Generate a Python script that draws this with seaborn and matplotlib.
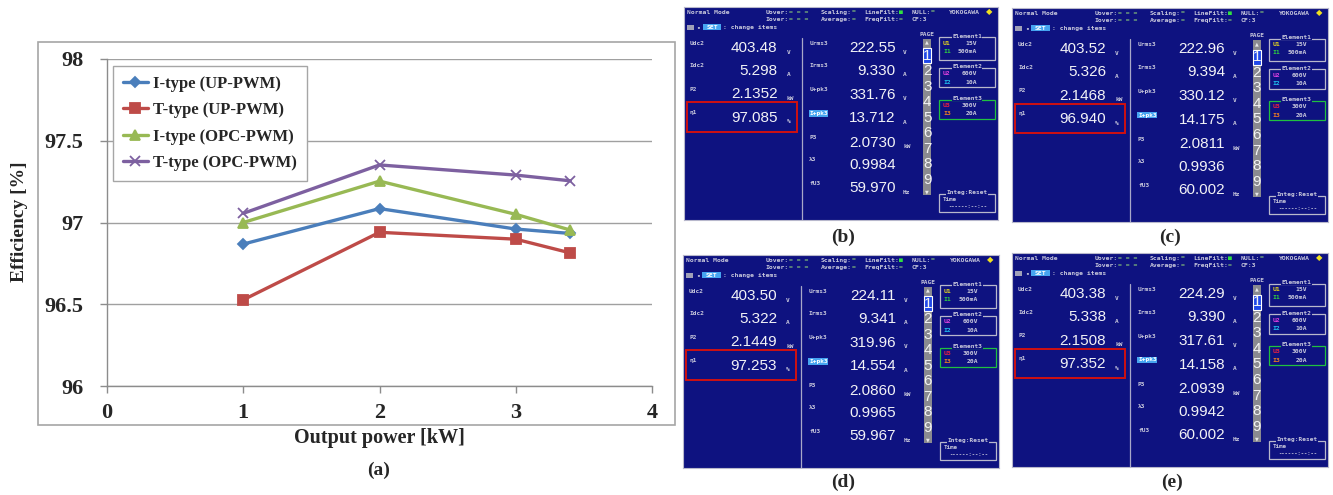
import matplotlib
matplotlib.use("Agg")
import matplotlib.pyplot as plt
from matplotlib.patches import Rectangle
import pandas as pd
import seaborn as sns

# --- data: efficiency curves (a) ---
power_kw = [1, 2, 3, 3.4]
eff_i_up = [96.868, 97.085, 96.96, 96.933]
eff_t_up = [96.527, 96.940, 96.898, 96.814]
eff_i_opc = [97.00, 97.253, 97.05, 96.954]
eff_t_opc = [97.056, 97.352, 97.29, 97.255]
series_names = ["I-type (UP-PWM)", "T-type (UP-PWM)", "I-type (OPC-PWM)", "T-type (OPC-PWM)"]
y_ticks = [96, 96.5, 97, 97.5, 98]
x_ticks = [0, 1, 2, 3, 4]

# --- data: power analyzer screens (b)-(e) ---
panel_tags = ["(b)", "(c)", "(d)", "(e)"]
udc2 = ["403.48", "403.52", "403.50", "403.38"]
idc2 = ["5.298", "5.326", "5.322", "5.338"]
p2 = ["2.1352", "2.1468", "2.1449", "2.1508"]
eta1 = ["97.085", "96.940", "97.253", "97.352"]
urms3 = ["222.55", "222.96", "224.11", "224.29"]
irms3 = ["9.330", "9.394", "9.341", "9.390"]
upk3 = ["331.76", "330.12", "319.96", "317.61"]
ipk3 = ["13.712", "14.175", "14.554", "14.158"]
p3 = ["2.0730", "2.0811", "2.0860", "2.0939"]
lam3 = ["0.9984", "0.9936", "0.9965", "0.9942"]
fu3 = ["59.970", "60.002", "59.967", "60.002"]
left_names = ["Udc2", "Idc2", "P2", "η1"]
left_units = ["V", "A", "kW", "%"]
mid_names = ["Urms3", "Irms3", "U+pk3", "I+pk3", "P3", "λ3", "fU3"]
mid_units = ["V", "A", "V", "A", "kW", "", "Hz"]
elements = [("Element1", "U1", "15V", "I1", "500mA"),
            ("Element2", "U2", "600V", "I2", "10A"),
            ("Element3", "U3", "300V", "I3", "20A")]

SERIF = ["Liberation Serif", "DejaVu Serif"]
MONO = ["DejaVu Sans Mono"]
SANS = ["Liberation Sans", "DejaVu Sans"]

sns.set_theme(style="white")
plt.rcParams["font.family"] = SERIF

fig = plt.figure(figsize=(13.33, 4.95), dpi=100)

# ---------------- (a) efficiency chart ----------------
fig.add_artist(Rectangle((38 / 1333, 1 - 425 / 495), (675 - 38) / 1333, (425 - 42) / 495,
                         transform=fig.transFigure, fill=False, edgecolor="#a6a6a6", lw=1.2))
ax = fig.add_axes([107 / 1333, 1 - 386 / 495, 545 / 1333, 327 / 495])

series_vals = [eff_i_up, eff_t_up, eff_i_opc, eff_t_opc]
series_colors = ["#4a7ebb", "#be4b48", "#98b954", "#7d60a0"]
series_markers = ["D", "s", "^", "x"]
series_msize = [5.5, 7.5, 7.5, 7.5]
for name, vals, col, mk, ms in zip(series_names, series_vals, series_colors, series_markers, series_msize):
    d = pd.DataFrame({"power": power_kw, "eff": vals})
    sns.lineplot(data=d, x="power", y="eff", color=col, marker=mk, markersize=ms,
                 lw=2.4, ax=ax, label=name, sort=False,
                 markeredgecolor=col, markeredgewidth=1.3)

ax.set_xlim(0, 4)
ax.set_ylim(96, 98)
ax.set_xticks(x_ticks)
ax.set_yticks(y_ticks)
ax.set_xticklabels([f"{v:g}" for v in x_ticks], fontsize=16, fontweight="bold", family=SERIF)
ax.set_yticklabels([f"{v:g}" for v in y_ticks], fontsize=16, fontweight="bold", family=SERIF)
ax.grid(axis="y", color="#a0a0a0", lw=1)
ax.set_axisbelow(True)
for s in ["top", "right"]:
    ax.spines[s].set_visible(False)
for s in ["left", "bottom"]:
    ax.spines[s].set_color("#8c8c8c")
    ax.spines[s].set_linewidth(1)
ax.tick_params(axis="both", direction="out", length=5, color="#8c8c8c", width=1, bottom=True, left=True)
ax.tick_params(axis="y", pad=12)
ax.tick_params(axis="x", pad=7)
ax.set_xlabel("")
ax.set_ylabel("")

handles, labels = ax.get_legend_handles_labels()
leg = ax.legend(handles, labels, loc="upper left", bbox_to_anchor=(0.011, 0.979),
                borderaxespad=0,
                prop={"family": SERIF, "weight": "bold", "size": 12},
                frameon=True, fancybox=False, edgecolor="#a6a6a6", framealpha=1,
                labelspacing=0.62, handlelength=1.5, handletextpad=0.3, borderpad=0.6)
leg.get_frame().set_linewidth(1)

fig.text(20 / 1333, 1 - 222 / 495, "Efficiency [%]", rotation=90, ha="center", va="center",
         fontsize=14, fontweight="bold", family=SERIF)
fig.text(379 / 1333, 1 - 438 / 495, "Output power [kW]", ha="center", va="center",
         fontsize=14.5, fontweight="bold", family=SERIF)
fig.text(379 / 1333, 1 - 470 / 495, "(a)", ha="center", va="center",
         fontsize=14, fontweight="bold", family=SERIF)

# ---------------- (b)-(e) analyzer screens ----------------
NAVY = "#0e1280"
TXT = "#f2f2f6"
LBL = "#c8c8dc"
EQ = "#6a9a7a"
CH = 11.5  # width of one mono char in screen units


def draw_screen(sa, k):
    sa.set_facecolor(NAVY)
    sa.set_xlim(0, 943)
    sa.set_ylim(638, 0)
    sa.set_xticks([])
    sa.set_yticks([])
    for s in sa.spines.values():
        s.set_color("#b8b8cc")
        s.set_linewidth(0.8)

    def t(x, y, s, size=4.6, color=LBL, ha="left", fam=MONO, weight="bold", **kw):
        sa.text(x, y, s, fontsize=size, color=color, ha=ha, va="center",
                family=fam, fontweight=weight, **kw)

    # header
    t(10, 15, "Normal Mode")
    for lab, x, y, tail, tcol in [("Uover:", 246, 15, "= = =", EQ), ("Iover:", 246, 38, "= = =", EQ),
                                  ("Scaling:", 411, 15, "=", EQ), ("Average:", 411, 38, "=", EQ),
                                  ("LineFilt:", 541, 15, "■", "#30e040"), ("FreqFilt:", 541, 38, "=", EQ),
                                  ("NULL:", 683, 15, "=", EQ), ("CF:3", 683, 38, "", EQ)]:
        t(x, y, lab)
        if tail:
            t(x + len(lab) * CH, y, tail, color=tcol)
    t(796, 15, "YOKOGAWA")
    t(908, 13, "◆", size=6, color="#f0e020", fam=["DejaVu Sans"])
    sa.add_patch(Rectangle((10, 53), 20, 16, facecolor="#a0a0b8", edgecolor="none"))
    t(38, 61, "•")
    sa.add_patch(Rectangle((56, 52), 56, 18, facecolor="#46a4f0", edgecolor="none"))
    t(84, 61, "SET", color="white", ha="center")
    t(118, 61, ": change items")

    # left column
    left_vals = [udc2[k], idc2[k], p2[k], eta1[k]]
    rows_y = [123, 191, 261, 331]
    for name, val, unit, y in zip(left_names, left_vals, left_units, rows_y):
        t(18, y - 15, name, size=4.4)
        t(281, y, val, size=11, color=TXT, ha="right", fam=SANS, weight="normal")
        t(308, y + 12, unit, size=4.4)
    sa.add_patch(Rectangle((8, 286), 330, 87, facecolor="none", edgecolor="#d01010", lw=1.4))
    sa.plot([353, 353], [93, 638], color="#a8a8c8", lw=0.9)

    # middle column
    mid_vals = [urms3[k], irms3[k], upk3[k], ipk3[k], p3[k], lam3[k], fu3[k]]
    mid_y = [123, 191, 263, 333, 406, 473, 543]
    for name, val, unit, y in zip(mid_names, mid_vals, mid_units, mid_y):
        if name == "I+pk3":
            sa.add_patch(Rectangle((374, y - 23), 58, 19, facecolor="#46a4f0", edgecolor="none"))
            t(378, y - 14, name, size=4.4, color="white")
        else:
            t(376, y - 15, name, size=4.4)
        t(636, y, val, size=11, color=TXT, ha="right", fam=SANS, weight="normal")
        if unit:
            t(658, y + 12, unit, size=4.4)

    # page scrollbar
    t(730, 83, "PAGE", ha="center", size=4.4)
    sa.add_patch(Rectangle((718, 96), 25, 467, facecolor="#8a8a90", edgecolor="none"))
    t(730.5, 106, "▲", size=3.5, color="#e8e8e8", ha="center", fam=["DejaVu Sans"])
    t(730.5, 553, "▼", size=3.5, color="#e8e8e8", ha="center", fam=["DejaVu Sans"])
    for n in range(1, 10):
        y = 146 + (n - 1) * 46.5
        if n == 1:
            sa.add_patch(Rectangle((719, y - 22), 23, 45, facecolor="#2048e8", edgecolor="white", lw=0.8))
        t(730.5, y, str(n), size=11, color="#f4f4f4", ha="center", fam=SANS, weight="normal")

    # element boxes
    box_y = [(91, 158), (183, 240), (278, 335)]
    colors = [("#e0d020", "#30d040"), ("#e040e0", "#20c0f0"), ("#e82040", "#f08020")]
    for (title, u, uv, i_, iv), (y0, y1), (cu, ci), edge in zip(
            elements, box_y, colors, ["#b8b8cc", "#b8b8cc", "#20c040"]):
        sa.add_patch(Rectangle((766, y0), 167, y1 - y0, facecolor="none", edgecolor=edge, lw=0.9))
        sa.text(850, y0 - 4, title, fontsize=4.4, color=LBL, ha="center", va="center",
                family=MONO, fontweight="bold", bbox=dict(facecolor=NAVY, edgecolor="none", pad=0.3))
        t(778, y0 + 17, u, color=cu)
        t(880, y0 + 17, uv, ha="right")
        t(778, y0 + 42, i_, color=ci)
        t(880, y0 + 42, iv, ha="right")

    # integration box
    sa.add_patch(Rectangle((766, 561), 167, 52, facecolor="none", edgecolor="#b8b8cc", lw=0.9))
    sa.text(850, 557, "Integ:Reset", fontsize=4.4, color=LBL, ha="center", va="center",
            family=MONO, fontweight="bold", bbox=dict(facecolor=NAVY, edgecolor="none", pad=0.3))
    t(778, 578, "Time", size=4.2)
    t(852, 598, "------:--:--", ha="center", size=4.0)


screen_boxes = [(684, 7, 998, 220), (1012, 8, 1328, 222), (683, 255, 999, 468), (1012, 253, 1328, 467)]
tag_pos = [(843, 237), (1170, 237), (843, 482), (1172, 482)]
for k, (x0, y0, x1, y1) in enumerate(screen_boxes):
    sa = fig.add_axes([x0 / 1333, 1 - y1 / 495, (x1 - x0) / 1333, (y1 - y0) / 495])
    draw_screen(sa, k)
    tx, ty = tag_pos[k]
    fig.text(tx / 1333, 1 - ty / 495, panel_tags[k], ha="center", va="center",
             fontsize=14, fontweight="bold", family=SERIF)

fig.savefig("out.png", dpi=100, facecolor="white")
